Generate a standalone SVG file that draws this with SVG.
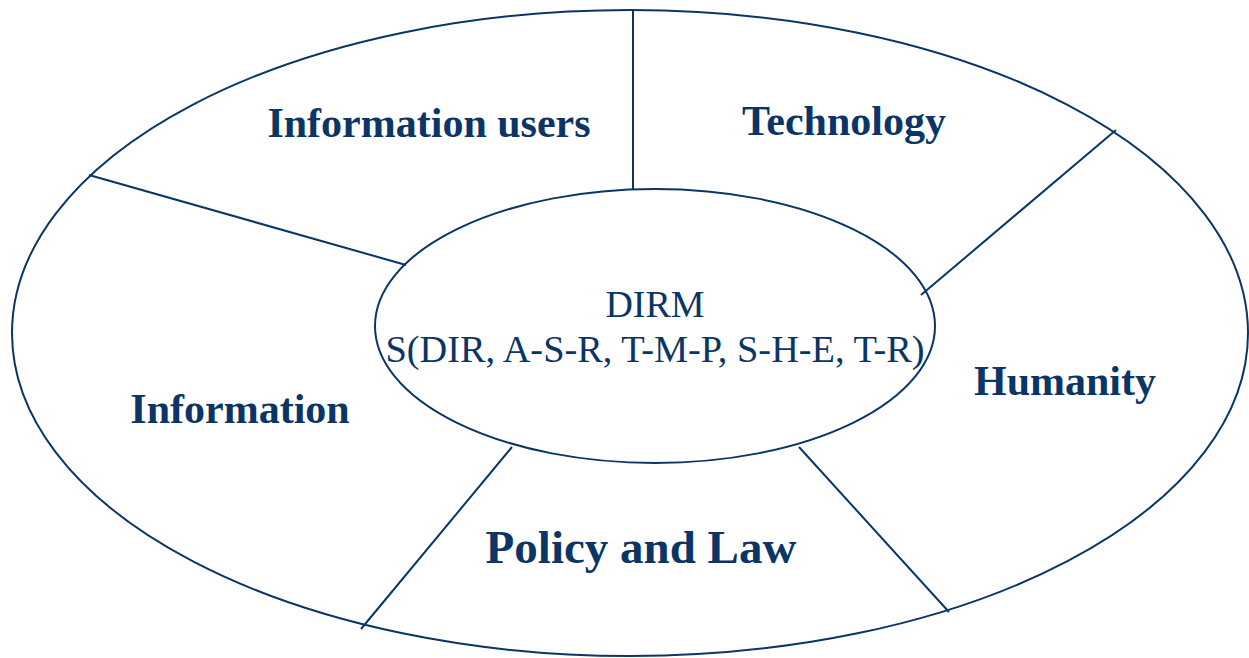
<svg xmlns="http://www.w3.org/2000/svg" width="1249" height="658" viewBox="0 0 1249 658">
<style>
.s{fill:none;stroke:#0a3566;stroke-width:2}
.b{font-family:"Liberation Serif",serif;font-weight:bold;fill:#0a3566}
.r{font-family:"Liberation Serif",serif;fill:#0a3566;font-size:38px}
</style>
<rect width="1249" height="658" fill="#fff"/>
<g id="outer"><ellipse class="s" cx="630" cy="333" rx="618" ry="323"/></g>
<g id="connectors">
<line class="s" x1="633" y1="10" x2="633" y2="190"/>
<line class="s" x1="89" y1="175" x2="406" y2="265"/>
<line class="s" x1="1116" y1="130" x2="921" y2="295"/>
<line class="s" x1="512" y1="447" x2="361" y2="629"/>
<line class="s" x1="799" y1="447" x2="949" y2="612"/>
</g>
<g id="center">
<ellipse class="s" cx="655" cy="326" rx="280" ry="137"/>
<text class="r" x="655" y="317" text-anchor="middle">DIRM</text>
<text class="r" x="655" y="362" text-anchor="middle" textLength="539" lengthAdjust="spacingAndGlyphs">S(DIR, A-S-R, T-M-P, S-H-E, T-R)</text>
</g>
<g id="users"><text class="b" x="429" y="137" font-size="42" text-anchor="middle">Information users</text></g>
<g id="technology"><text class="b" x="844" y="135" font-size="42" text-anchor="middle">Technology</text></g>
<g id="humanity"><text class="b" x="1065" y="395" font-size="42" text-anchor="middle">Humanity</text></g>
<g id="information"><text class="b" x="240" y="423" font-size="42" text-anchor="middle">Information</text></g>
<g id="policy"><text class="b" x="641" y="563" font-size="47" text-anchor="middle">Policy and Law</text></g>
</svg>
